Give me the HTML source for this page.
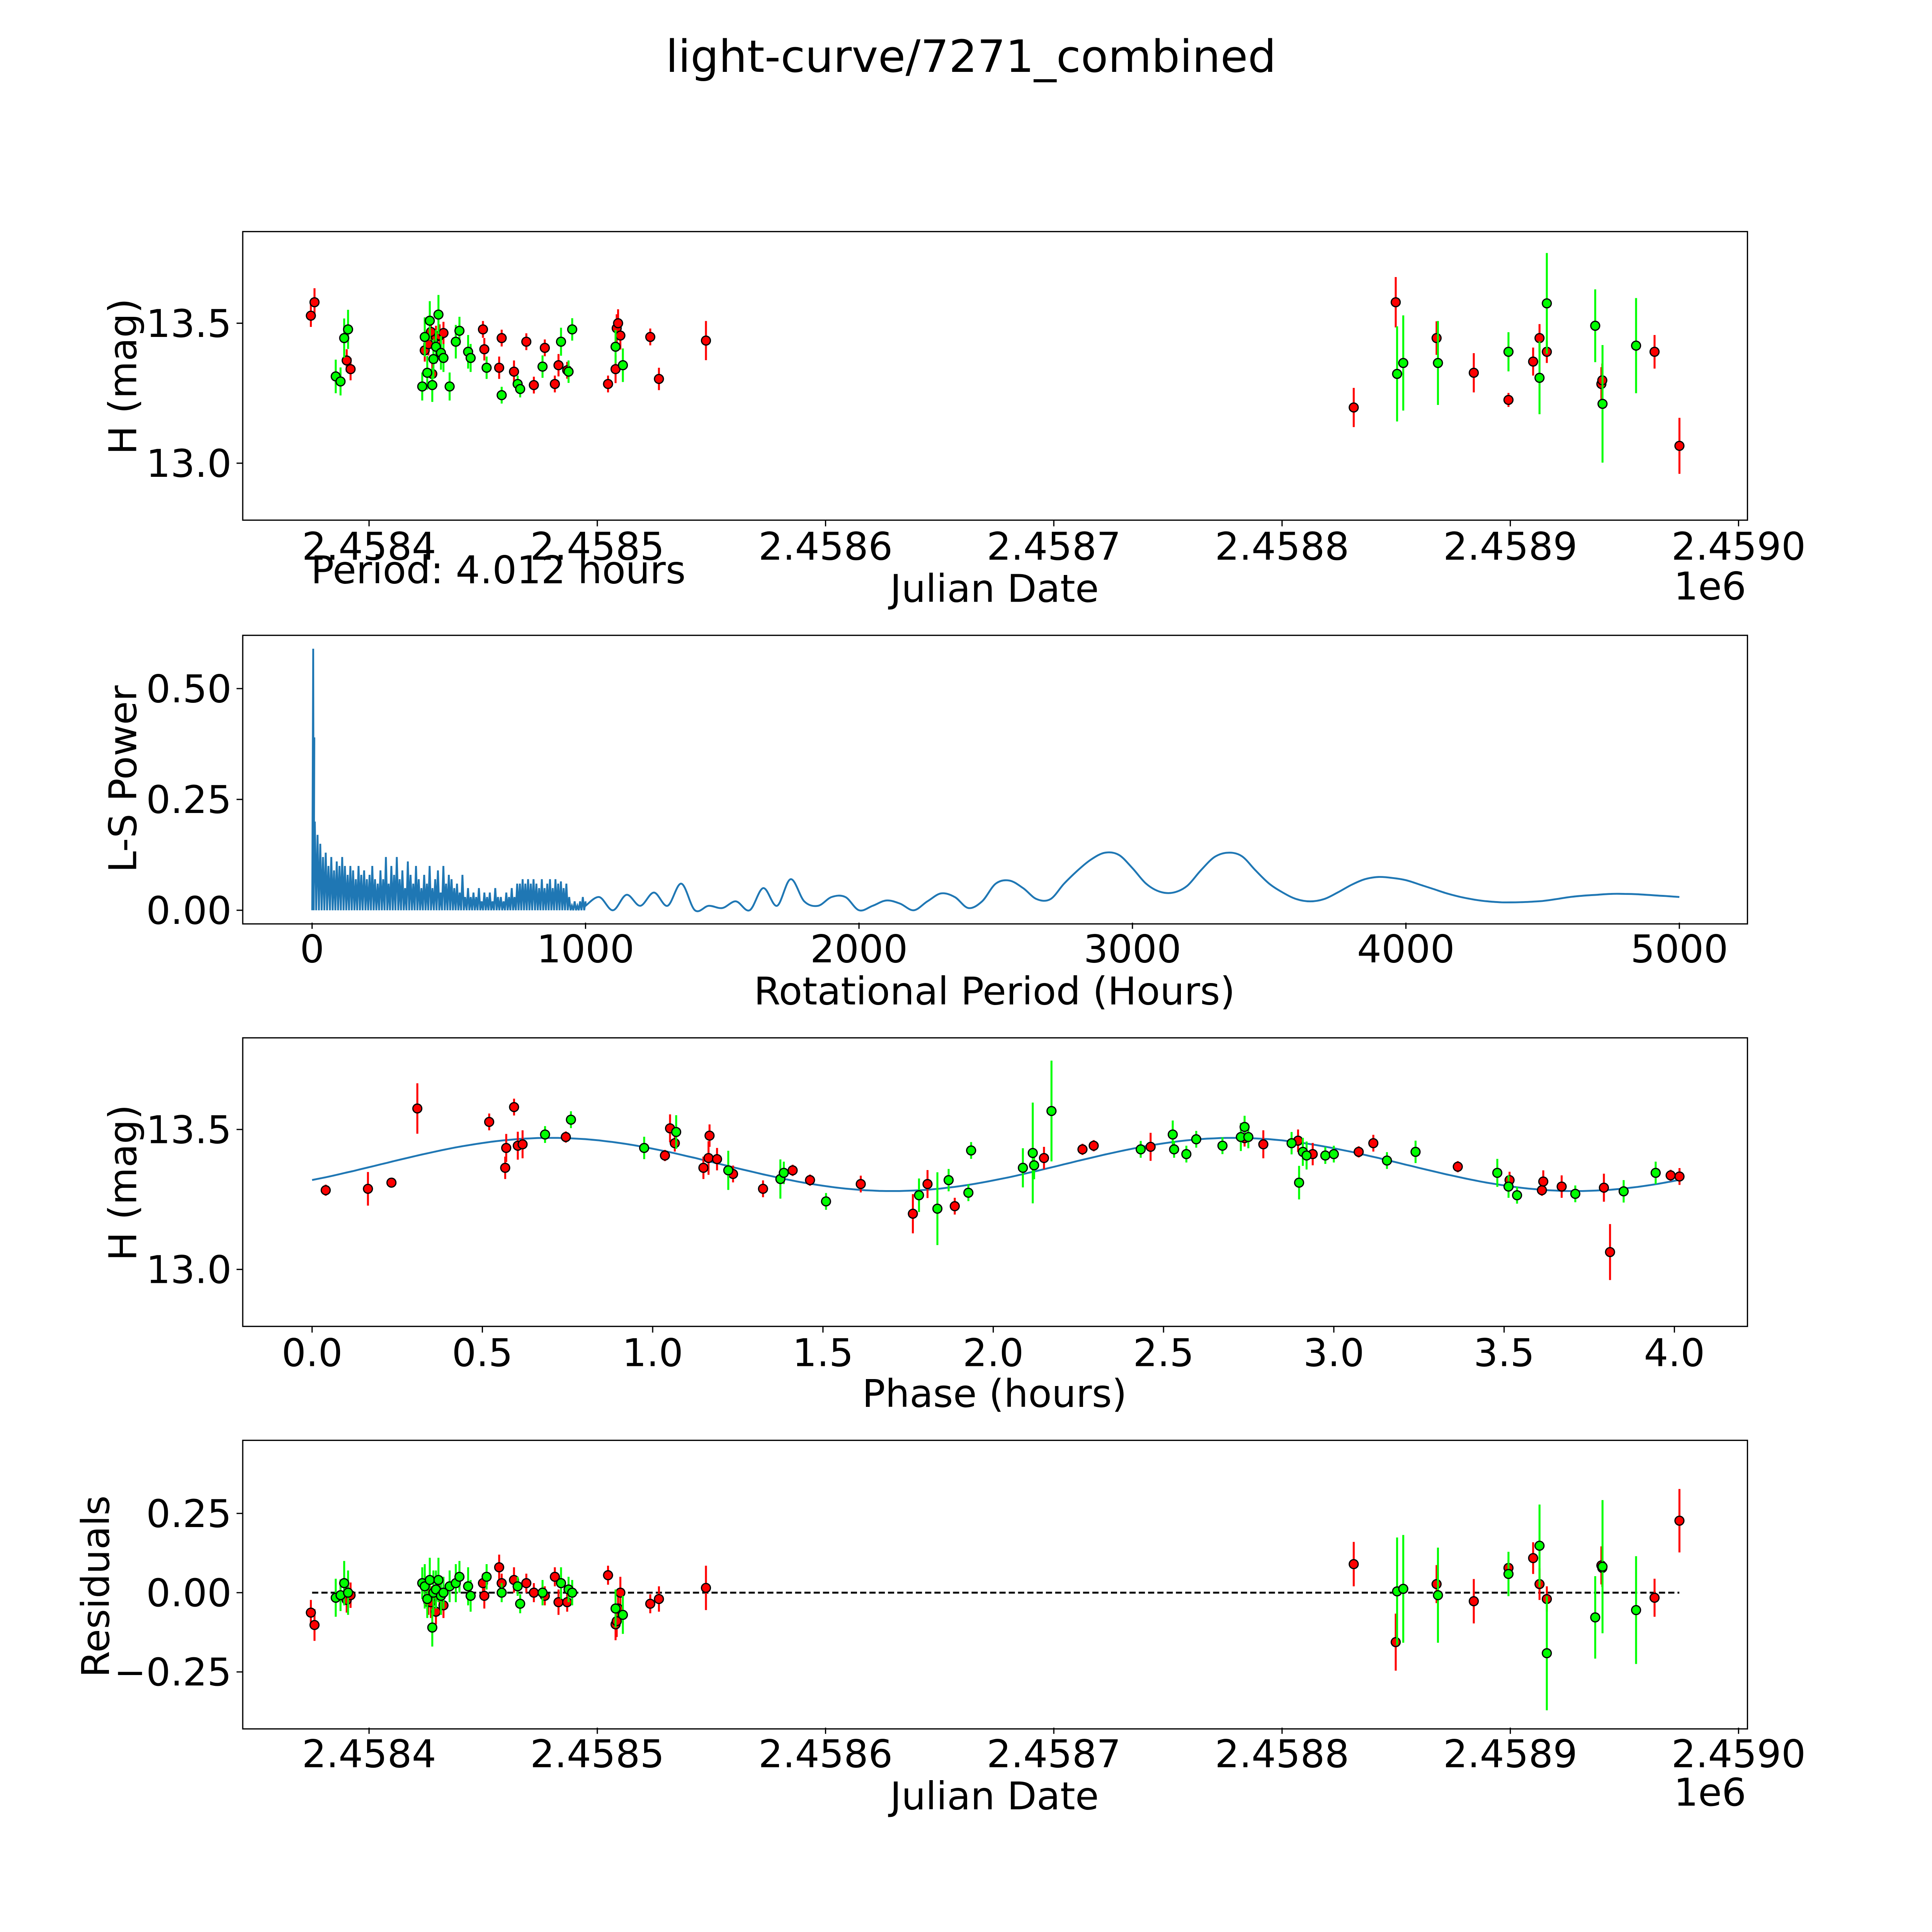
<!DOCTYPE html>
<html><head><meta charset="utf-8"><style>
html,body{margin:0;padding:0;background:#fff;overflow:hidden;width:100%;height:100%}
svg{display:block;position:fixed;left:0;top:0;width:100vw;height:100vh}
text{font-family:"DejaVu Sans","Liberation Sans",sans-serif;fill:#000}
</style></head><body>
<svg id="fig" viewBox="0 0 1560 1560" preserveAspectRatio="none" xmlns="http://www.w3.org/2000/svg">
<rect width="1560" height="1560" fill="#fff"/>
<text x="784" y="58" font-size="36" text-anchor="middle">light-curve/7271_combined</text>
<g id="root"></g>
</svg>
<script>
// ---- Data: light curve (JD offset from 2458400, H mag, error) ----
const redJD=[-25.5,-23.9,-9.8,-8.1,24.4,26.0,27.7,29.3,30.9,32.6,27.1,49.9,50.5,58.1,57.0,63.5,68.9,72.2,77.0,81.4,83.0,86.8,104.7,108.0,108.5,109.1,110.1,123.2,127.0,147.6,431.4,449.8,467.7,484.0,499.2,510.0,512.8,516.0,539.9,540.3,574.1,563.2];
const redMag=[13.527,13.575,13.367,13.336,13.403,13.425,13.319,13.451,13.456,13.465,13.469,13.478,13.407,13.447,13.341,13.327,13.434,13.279,13.412,13.283,13.350,13.332,13.283,13.336,13.482,13.5,13.456,13.451,13.301,13.438,13.199,13.575,13.447,13.323,13.226,13.363,13.447,13.398,13.283,13.296,13.062,13.398];
const redErr=[0.04,0.05,0.04,0.04,0.04,0.04,0.04,0.04,0.04,0.04,0.05,0.03,0.04,0.03,0.04,0.04,0.03,0.03,0.03,0.03,0.04,0.03,0.03,0.05,0.05,0.05,0.05,0.03,0.04,0.07,0.07,0.09,0.06,0.07,0.025,0.05,0.05,0.04,0.06,0.06,0.1,0.06];
const redRes=[-0.063,-0.102,-0.023,-0.008,0.02,-0.03,-0.02,-0.06,0.0,-0.04,-0.03,0.03,-0.01,0.03,0.08,0.04,0.03,0.0,-0.01,0.05,-0.03,-0.03,0.055,-0.1,-0.09,-0.05,0.0,-0.035,-0.02,0.015,0.09,-0.156,0.027,-0.027,0.078,0.109,0.027,-0.02,0.086,0.078,0.227,-0.016];
const grnJD=[-14.6,-12.5,-10.9,-9.2,23.3,24.4,25.5,26.6,27.7,28.2,29.3,30.4,31.5,32.6,35.3,38.0,39.6,43.4,44.5,51.5,58.1,65.1,66.2,76.0,84.1,87.4,89.0,108.0,111.2,450.4,453.1,468.3,499.2,512.8,516.0,537.2,540.4,555.1];
const grnMag=[13.310,13.292,13.447,13.478,13.274,13.451,13.323,13.509,13.279,13.372,13.416,13.531,13.394,13.376,13.274,13.434,13.473,13.398,13.376,13.341,13.243,13.283,13.265,13.345,13.434,13.327,13.478,13.416,13.350,13.319,13.358,13.358,13.398,13.305,13.571,13.491,13.212,13.420];
const grnErr=[0.06,0.05,0.07,0.07,0.05,0.07,0.06,0.07,0.06,0.07,0.06,0.07,0.06,0.05,0.05,0.06,0.05,0.06,0.05,0.04,0.03,0.03,0.03,0.04,0.05,0.04,0.04,0.06,0.06,0.17,0.17,0.15,0.07,0.13,0.18,0.13,0.21,0.17];
const grnRes=[-0.016,-0.008,0.03,0.0,0.03,0.02,-0.02,0.04,-0.11,0.0,0.01,0.04,-0.01,0.0,0.02,0.03,0.05,0.02,-0.01,0.05,0.0,0.02,-0.035,0.0,0.03,0.01,0.0,-0.05,-0.07,0.004,0.012,-0.008,0.059,0.148,-0.191,-0.078,0.082,-0.055];
// ---- Data: phased ----
const redPh=[0.04,0.164,0.233,0.309,0.52,0.567,0.57,0.593,0.604,0.618,0.745,1.036,1.051,1.065,1.149,1.164,1.167,1.189,1.236,1.324,1.411,1.462,1.611,1.764,1.807,1.887,2.149,2.262,2.295,2.462,2.738,2.793,2.895,2.938,3.073,3.116,3.364,3.516,3.611,3.615,3.669,3.793,3.811,3.989,4.015];
const redPhMag=[13.283,13.288,13.310,13.575,13.527,13.363,13.434,13.580,13.442,13.447,13.473,13.407,13.504,13.451,13.363,13.398,13.478,13.394,13.341,13.288,13.354,13.319,13.305,13.199,13.305,13.226,13.398,13.429,13.442,13.438,13.469,13.447,13.460,13.412,13.420,13.451,13.367,13.319,13.283,13.314,13.296,13.292,13.062,13.336,13.332];
const redPhErr=[0.02,0.06,0.01,0.09,0.03,0.04,0.05,0.03,0.05,0.05,0.02,0.02,0.05,0.03,0.04,0.06,0.04,0.04,0.03,0.03,0.02,0.02,0.03,0.07,0.05,0.03,0.04,0.02,0.02,0.05,0.03,0.05,0.04,0.04,0.02,0.03,0.02,0.03,0.02,0.04,0.04,0.05,0.1,0.02,0.03];
const grnPh=[0.684,0.76,0.975,1.069,1.222,1.375,1.385,1.509,1.782,1.836,1.869,1.927,1.935,2.087,2.12,2.116,2.171,2.433,2.527,2.531,2.567,2.596,2.673,2.727,2.738,2.749,2.876,2.898,2.909,2.92,2.975,3.0,3.156,3.24,3.48,3.513,3.538,3.709,3.851,3.945];
const grnPhMag=[13.482,13.535,13.434,13.491,13.354,13.323,13.345,13.243,13.265,13.217,13.319,13.274,13.425,13.363,13.372,13.416,13.566,13.429,13.482,13.429,13.412,13.465,13.442,13.473,13.509,13.473,13.451,13.310,13.420,13.407,13.407,13.412,13.389,13.420,13.345,13.296,13.265,13.270,13.279,13.345];
const grnPhErr=[0.03,0.03,0.04,0.06,0.07,0.07,0.04,0.03,0.06,0.13,0.04,0.03,0.03,0.07,0.05,0.18,0.18,0.03,0.05,0.03,0.03,0.03,0.03,0.05,0.04,0.04,0.04,0.06,0.05,0.05,0.03,0.03,0.03,0.04,0.05,0.04,0.03,0.03,0.04,0.04];
// ---- Data: periodogram ----
const spikeStep=10;
const spikePow=[0.2,0.17,0.15,0.12,0.13,0.1,0.12,0.09,0.11,0.1,0.12,0.1,0.08,0.1,0.09,0.07,0.1,0.08,0.09,0.07,0.08,0.1,0.07,0.06,0.09,0.07,0.12,0.06,0.1,0.08,0.12,0.07,0.09,0.05,0.11,0.08,0.06,0.1,0.07,0.05,0.08,0.06,0.1,0.05,0.07,0.09,0.04,0.1,0.06,0.08,0.07,0.05,0.06,0.04,0.08,0.03,0.05,0.03,0.04,0.03,0.05,0.02,0.04,0.03,0.04,0.02,0.05,0.03,0.03,0.02,0.04,0.03,0.05,0.03,0.06,0.06,0.07,0.06,0.07,0.06,0.07,0.06,0.05,0.07,0.05,0.06,0.07,0.05,0.07,0.06,0.065,0.05,0.06,0.03,0.01,0.02,0.01,0.02,0.03,0.02];
const peakPeriods=[4.012,8.02];
const peakPow=[0.59,0.39];
const smoothStart=1000, smoothStep=50;
const smoothPow=[0.01,0.03,0.0,0.035,0.01,0.04,0.01,0.06,0.0,0.01,0.005,0.02,0.0,0.05,0.01,0.07,0.02,0.01,0.03,0.03,0.0,0.01,0.022,0.015,0.0,0.02,0.038,0.03,0.005,0.02,0.06,0.067,0.05,0.025,0.025,0.06,0.09,0.115,0.13,0.125,0.095,0.06,0.042,0.04,0.055,0.09,0.12,0.13,0.122,0.09,0.06,0.04,0.025,0.02,0.025,0.04,0.057,0.07,0.075,0.073,0.068,0.058,0.048,0.038,0.03,0.024,0.02,0.018,0.018,0.019,0.021,0.025,0.03,0.033,0.035,0.037,0.037,0.036,0.034,0.032,0.03];
// ---- Tick labels ----
const jdTicks=[0,100,200,300,400,500,600];
const jdTickLabels=["2.4584","2.4585","2.4586","2.4587","2.4588","2.4589","2.4590"];
const magTicks=[13.0,13.5];
const magTickLabels=["13.0","13.5"];
const powTicks=[0,0.25,0.5];
const powTickLabels=["0.00","0.25","0.50"];
const perTicks=[0,1000,2000,3000,4000,5000];
const perTickLabels=["0","1000","2000","3000","4000","5000"];
const phTicks=[0,0.5,1,1.5,2,2.5,3,3.5,4];
const phTickLabels=["0.0","0.5","1.0","1.5","2.0","2.5","3.0","3.5","4.0"];
const resTicks=[-0.25,0,0.25];
const resTickLabels=["\u22120.25","0.00","0.25"];
const modelAmp=0.095, modelMean=13.375, modelPhase0=0.2, modelPeriod=2.006;

const NS="http://www.w3.org/2000/svg";
const root=document.getElementById('root');
function mk(tag,attrs,parent){const e=document.createElementNS(NS,tag);for(const k in attrs)e.setAttribute(k,attrs[k]);(parent||root).appendChild(e);return e;}
const L=196,R=1411,FS=31;
const xJD=d=>298+d*1.843;
const xPer=p=>252+p*0.2208;
const xPh=p=>252+p*275;
function yMag(top){const y135=top+74;return m=>y135+(13.5-m)*226;}
const y1=yMag(187), y3=yMag(838);
const yPow=p=>735-p*358;
const yRes=r=>1286-r*256;

function frame(top,name){
  const g=mk('g',{});
  
  
  const r=mk('rect',{x:L,y:top,width:R-L,height:233,fill:'none',stroke:'#000','stroke-width':1},g);
  
  
  return g;
}
function xticks(g,bottom,ticks,labels,fx,name){
  ticks.forEach((t,i)=>{const x=fx(t);
    mk('line',{x1:x,x2:x,y1:bottom,y2:bottom+5,stroke:'#000','stroke-width':1},g);
    const tx=mk('text',{x:x,y:bottom+32,'font-size':FS,'text-anchor':'middle'},g);tx.textContent=labels[i];
    
    
  });
}
function yticks(g,ticks,labels,fy,name){
  ticks.forEach((t,i)=>{const y=fy(t);
    mk('line',{x1:L-5,x2:L,y1:y,y2:y,stroke:'#000','stroke-width':1},g);
    const tx=mk('text',{x:L-9,y:y+11,'font-size':FS,'text-anchor':'end'},g);tx.textContent=labels[i];
    
    
  });
}
function label(g,x,y,txt,rot,name,anchor){
  const t=mk('text',{x:x,y:y,'font-size':FS,'text-anchor':anchor||'middle'},g);
  if(rot)t.setAttribute('transform','rotate(-90 '+x+' '+y+')');
  t.textContent=txt;
  
  
}
function points(g,xs,ys,es,fx,fy,col,fill,name){
  xs.forEach((v,i)=>{const x=fx(v);
    const l=mk('line',{x1:x,x2:x,y1:fy(ys[i]-es[i]),y2:fy(ys[i]+es[i]),stroke:col,'stroke-width':1.6},g);
    
    
  });
  xs.forEach((v,i)=>{
    const c=mk('circle',{cx:fx(v),cy:fy(ys[i]),r:3.6,fill:fill,stroke:'#000','stroke-width':1},g);
    
    
  });
}

// Panel 1
let g=frame(187,'light-curve-panel');
xticks(g,420,jdTicks,jdTickLabels,xJD,'julian-date');
yticks(g,magTicks,magTickLabels,y1,'magnitude');
label(g,803,486,'Julian Date',false,'x-axis-title');
label(g,1410,484,'1e6',false,'x-offset-label','end');
label(g,110,304,'H (mag)',true,'y-axis-title');
label(g,251,471,'Period: 4.012 hours',false,'period-annotation','start');
points(g,redJD,redMag,redErr,xJD,y1,'#ff0000','#ff0000','red-band');
points(g,grnJD,grnMag,grnErr,xJD,y1,'#00ff00','#00ff00','green-band');

// Panel 2
g=frame(513,'periodogram-panel');
xticks(g,745,perTicks,perTickLabels,xPer,'period');
yticks(g,powTicks,powTickLabels,yPow,'power');
label(g,803,811,'Rotational Period (Hours)',false,'x-axis-title');
label(g,110,629,'L-S Power',true,'y-axis-title');
let pts=[[xPer(0.5),yPow(0)],[xPer(peakPeriods[0]),yPow(peakPow[0])],[xPer(6),yPow(0)],[xPer(peakPeriods[1]),yPow(peakPow[1])]];
spikePow.forEach((v,i)=>{const p=i*spikeStep+5;pts.push([xPer(p),yPow(0)]);pts.push([xPer(p+5),yPow(v)]);});
let d='M'+pts.map(p=>p[0].toFixed(1)+','+p[1].toFixed(1)).join(' L');
const sp=smoothPow.map((v,i)=>[xPer(smoothStart+i*smoothStep),yPow(v)]);
d+=' L'+sp[0][0].toFixed(1)+','+sp[0][1].toFixed(1);
for(let i=0;i<sp.length-1;i++){
  const p0=sp[Math.max(0,i-1)],p1=sp[i],p2=sp[i+1],p3=sp[Math.min(sp.length-1,i+2)];
  const c1=[p1[0]+(p2[0]-p0[0])/6,p1[1]+(p2[1]-p0[1])/6],c2=[p2[0]-(p3[0]-p1[0])/6,p2[1]-(p3[1]-p1[1])/6];
  d+=' C'+c1.map(v=>v.toFixed(1)).join(',')+' '+c2.map(v=>v.toFixed(1)).join(',')+' '+p2.map(v=>v.toFixed(1)).join(',');
}
const ls=mk('path',{d:d,fill:'none',stroke:'#1f77b4','stroke-width':1.5},g);



// Panel 3
g=frame(838,'phased-panel');
xticks(g,1071,phTicks,phTickLabels,xPh,'phase');
yticks(g,magTicks,magTickLabels,y3,'magnitude');
label(g,803,1136,'Phase (hours)',false,'x-axis-title');
label(g,110,955,'H (mag)',true,'y-axis-title');
let mp=[];for(let i=0;i<=200;i++){const p=4.012*i/200;mp.push(xPh(p).toFixed(1)+','+y3(modelMean+modelAmp*Math.sin(2*Math.PI*(p-modelPhase0)/modelPeriod)).toFixed(1));}
const ml=mk('polyline',{points:mp.join(' '),fill:'none',stroke:'#1f77b4','stroke-width':1.5},g);


points(g,redPh,redPhMag,redPhErr,xPh,y3,'#ff0000','#ff0000','red-band-phased');
points(g,grnPh,grnPhMag,grnPhErr,xPh,y3,'#00ff00','#00ff00','green-band-phased');

// Panel 4
g=frame(1163,'residuals-panel');
xticks(g,1395,jdTicks,jdTickLabels,xJD,'julian-date');
yticks(g,resTicks,resTickLabels,yRes,'residual');
label(g,803,1461,'Julian Date',false,'x-axis-title');
label(g,1410,1458,'1e6',false,'x-offset-label','end');
label(g,88,1281,'Residuals',true,'y-axis-title');
const zl=mk('line',{x1:252,x2:1356,y1:yRes(0),y2:yRes(0),stroke:'#000','stroke-width':1.5,'stroke-dasharray':'5,2.5'},g);


points(g,redJD,redRes,redErr,xJD,yRes,'#ff0000','#ff0000','red-residual');
points(g,grnJD,grnRes,grnErr,xJD,yRes,'#00ff00','#00ff00','green-residual');
</script>
</body></html>
